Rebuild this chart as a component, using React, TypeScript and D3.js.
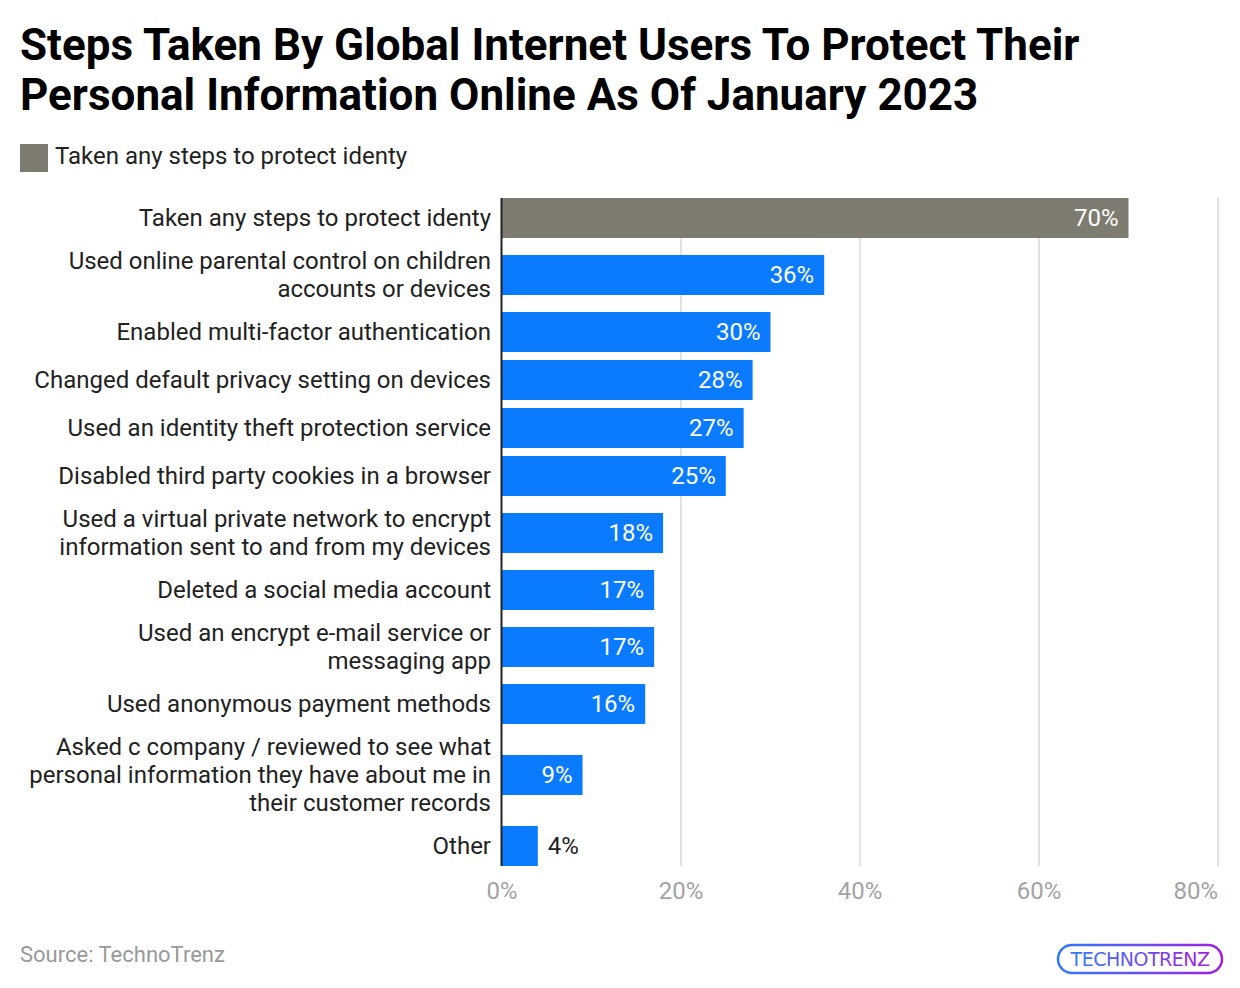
import React from "react";
import * as d3 from "d3";

const titleLines = [
  "Steps Taken By Global Internet Users To Protect Their",
  "Personal Information Online As Of January 2023",
];
const legendLabel = "Taken any steps to protect identy";
const categories: string[][] = [
  ["Taken any steps to protect identy"],
  ["Used online parental control on children", "accounts or devices"],
  ["Enabled multi-factor authentication"],
  ["Changed default privacy setting on devices"],
  ["Used an identity theft protection service"],
  ["Disabled third party cookies in a browser"],
  ["Used a virtual private network to encrypt", "information sent to and from my devices"],
  ["Deleted a social media account"],
  ["Used an encrypt e-mail service or", "messaging app"],
  ["Used anonymous payment methods"],
  ["Asked c company / reviewed to see what", "personal information they have about me in", "their customer records"],
  ["Other"],
];
const values = [70, 36, 30, 28, 27, 25, 18, 17, 17, 16, 9, 4];
const highlighted = [true, false, false, false, false, false, false, false, false, false, false, false];
const ticks = [0, 20, 40, 60, 80];
const source = "Source: TechnoTrenz";

const W = 1240;
const H = 988;
const FONT = "Roboto, 'Noto Sans', sans-serif";
const GRAY = "#7e7b70";
const BLUE = "#0a7aff";

export default function App() {
  const x0 = 502;
  const x1 = 1218;
  const x = d3.scaleLinear().domain([0, 80]).range([x0, x1]);
  const lineH = 28;
  const rowHeights = categories.map((l) => Math.max(48, l.length * lineH + 10));
  const top = 194;
  const offsets: number[] = [];
  let acc = top;
  rowHeights.forEach((h) => {
    offsets.push(acc);
    acc += h;
  });
  const barH = 40;
  const gridTop = 198;
  const gridBottom = 866;

  return (
    <svg width={W} height={H} style={{ display: "block", position: "absolute", left: 0, top: 0 }}>
      <rect width={W} height={H} fill="#fff" />
      {titleLines.map((t, i) => (
        <text key={i} x={20} y={60 + i * 50} fontFamily={FONT} fontWeight={700} fontSize={44} fill="#000">
          {t}
        </text>
      ))}
      <rect x={20} y={144} width={28} height={28} fill={GRAY} />
      <text x={55} y={164} fontFamily={FONT} fontSize={24} fill="#222">
        {legendLabel}
      </text>

      {ticks.slice(1).map((t) => (
        <line key={t} x1={x(t)} x2={x(t)} y1={gridTop} y2={gridBottom} stroke="#e2e2e2" strokeWidth={2} />
      ))}

      {values.map((v, i) => {
        const cy = offsets[i] + rowHeights[i] / 2;
        const inside = x(v) - x0 > 60;
        const lines = categories[i];
        const firstY = cy - ((lines.length - 1) * lineH) / 2 + 8;
        return (
          <g key={i}>
            <rect x={x0} y={cy - barH / 2} width={x(v) - x0} height={barH} fill={highlighted[i] ? GRAY : BLUE} />
            <text
              x={inside ? x(v) - 10 : x(v) + 10}
              y={cy + 8}
              textAnchor={inside ? "end" : "start"}
              fontFamily={FONT}
              fontSize={24}
              fill={inside ? "#fff" : "#222"}
            >
              {v}%
            </text>
            {lines.map((l, j) => (
              <text key={j} x={491} y={firstY + j * lineH} textAnchor="end" fontFamily={FONT} fontSize={24} fill="#222">
                {l}
              </text>
            ))}
          </g>
        );
      })}

      <line x1={x0 - 0.5} x2={x0 - 0.5} y1={gridTop} y2={gridBottom} stroke="#222" strokeWidth={2} />

      {ticks.map((t, i) => (
        <text
          key={t}
          x={x(t)}
          y={899}
          textAnchor={i === ticks.length - 1 ? "end" : "middle"}
          fontFamily={FONT}
          fontSize={24}
          fill="#a3a3a3"
        >
          {t}%
        </text>
      ))}

      <text x={20} y={962} fontFamily={FONT} fontSize={22} fill="#999">
        {source}
      </text>

      <defs>
        <linearGradient id="logoGrad" x1="0" x2="1" y1="0" y2="0">
          <stop offset="0%" stopColor="#2f7bff" />
          <stop offset="100%" stopColor="#a21fe0" />
        </linearGradient>
      </defs>
      <g>
        <rect x={1058} y={945} width={164} height={28} rx={14} fill="none" stroke="url(#logoGrad)" strokeWidth={2.5} />
        <text
          x={1140}
          y={966}
          textAnchor="middle"
          fontFamily="'DejaVu Sans', sans-serif"
          fontSize={19}
          fill="url(#logoGrad)"
          letterSpacing={-0.5}
        >
          TECHNOTRENZ
        </text>
      </g>
    </svg>
  );
}
